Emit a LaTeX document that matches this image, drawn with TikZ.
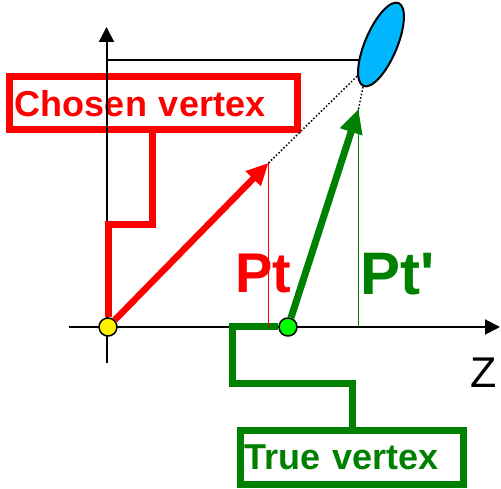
\documentclass[tikz,border=0pt]{standalone}
\usepackage{fontspec}
\setmainfont{Liberation Sans}
\usetikzlibrary{arrows.meta,shapes.geometric}
\definecolor{trkgreen}{RGB}{0,128,0}
\definecolor{dotgreen}{RGB}{0,255,0}
\definecolor{blobblue}{RGB}{0,183,255}
\begin{document}
\begin{tikzpicture}[x=1pt,y=1pt,
  axis/.style={line width=2pt,-{Triangle[length=15pt,width=15pt]}},
  vbox/.style={draw,line width=7pt,align=left,inner ysep=0pt,font=\fontsize{36}{40}\selectfont\bfseries},
  vdot/.style={circle,draw,line width=1.5pt,minimum size=18pt,inner sep=0pt},
  elbow/.style={line width=7pt},
  guide/.style={line width=1.5pt},
  bigtxt/.style={inner sep=0pt,anchor=base west,font=\fontsize{#1}{#1}\selectfont\bfseries}]
\useasboundingbox (0,0) rectangle (501,489);
\draw[line width=2pt] (106.5,429) -- (362,429);
\node[ellipse,draw,line width=2pt,fill=blobblue,rotate=67,minimum width=90pt,minimum height=32pt,inner sep=0pt] (blob) at (381,444.5) {};
\node[vbox,red,text width=276.5pt,inner xsep=5.5pt,minimum height=53.5pt] (chosen) at (153.25,385.75) {Chosen vertex};
\node[vbox,trkgreen,text width=216pt,inner xsep=3.5pt,minimum height=54pt] (truev) at (352,31.5) {True vertex};
\draw[axis] (106.5,126) -- (106.5,462);
\draw[axis] (69,162) -- (500,162);
\node[vdot,fill=yellow] (origin) at (108,162) {};
\node[vdot,fill=dotgreen] (truept) at (288,162) {};
\coordinate (ptred) at (268.5,326);
\coordinate (ptgreen) at (358.5,380);
\coordinate (elbowr) at (152,264);
\coordinate (elbowg) at (232,105);
\draw[elbow,red] (chosen.south -| elbowr) -- (elbowr) -| (origin);
\draw[elbow,trkgreen] (truev.north) |- (elbowg) |- (truept);
\draw[guide,red] (ptred) -- (ptred |- origin);
\draw[guide,trkgreen] (ptgreen) -- (ptgreen |- truept);
\draw[guide,dash pattern=on 1.5pt off 2pt] (ptred) -- (blob.166);
\draw[guide,dash pattern=on 1.5pt off 2pt] (ptgreen) -- (blob.west);
\draw[red,line width=6.5pt,-{Triangle[length=22pt,width=20pt]}] (origin) -- (ptred);
\draw[trkgreen,line width=7pt,-{Triangle[length=24pt,width=22pt]}] (truept) -- (ptgreen);
\node[bigtxt=56,red] (ptlabel) at (235,196) {Pt};
\node[bigtxt=60,trkgreen] (ptplabel) at (360.5,194) {Pt\textquotesingle};
\node[inner sep=0pt,anchor=base,font=\fontsize{43}{45}\selectfont] (zlabel) at (483.5,101) {Z};
\end{tikzpicture}
\end{document}
